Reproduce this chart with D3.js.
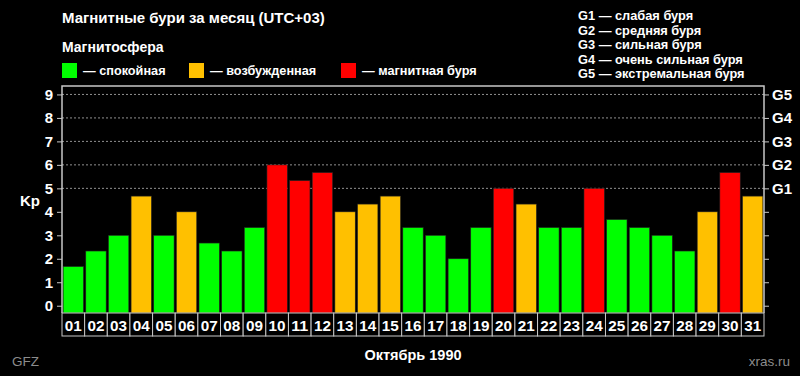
<!DOCTYPE html>
<html lang="ru">
<head>
<meta charset="utf-8">
<title>Магнитные бури за месяц</title>
<script src="https://d3js.org/d3.v7.min.js"></script>
<style>
  html, body { margin: 0; padding: 0; background: #000; }
  svg { display: block; font-family: "Liberation Sans", Arial, sans-serif; font-weight: bold; }
</style>
</head>
<body>
<script>
// data
const days = ["01","02","03","04","05","06","07","08","09","10","11","12","13","14","15","16",
              "17","18","19","20","21","22","23","24","25","26","27","28","29","30","31"];
const kp = [1.67, 2.33, 3, 4.67, 3, 4, 2.67, 2.33, 3.33, 6, 5.33, 5.67, 4, 4.33, 4.67, 3.33,
            3, 2, 3.33, 5, 4.33, 3.33, 3.33, 5, 3.67, 3.33, 3, 2.33, 4, 5.67, 4.67];
const kpTicks = [0, 1, 2, 3, 4, 5, 6, 7, 8, 9];
const gLevels = ["G1", "G2", "G3", "G4", "G5"];
const gValues = [5, 6, 7, 8, 9];
const gNotes = ["G1 — слабая буря", "G2 — средняя буря", "G3 — сильная буря",
                "G4 — очень сильная буря", "G5 — экстремальная буря"];
const legendLabels = ["— спокойная", "— возбужденная", "— магнитная буря"];
const legendColors = ["#00ff00", "#ffc000", "#ff0000"];

const width = 800, height = 376;
const plotL = 62, plotR = 764, plotT = 86, plotB = 313;

const svg = d3.select("body").append("svg")
    .attr("width", width)
    .attr("height", height);

const x = d3.scaleBand().domain(days).range([plotL, plotR]).paddingInner(0.1).paddingOuter(0.05);
const y = d3.scaleLinear().domain([-0.31, 9.36]).range([plotB, plotT]);
const color = d3.scaleThreshold().domain([4, 5]).range(legendColors);

// titles
svg.append("text").attr("x", 62).attr("y", 23).attr("fill", "#fff").attr("font-size", 15)
    .text("Магнитные бури за месяц (UTC+03)");
svg.append("text").attr("x", 62).attr("y", 52).attr("fill", "#fff").attr("font-size", 14)
    .text("Магнитосфера");

// legend
const legX = [62, 189, 341];
legendLabels.forEach((t, i) => {
  svg.append("rect").attr("x", legX[i]).attr("y", 63).attr("width", 15).attr("height", 15)
      .attr("fill", legendColors[i]);
  svg.append("text").attr("x", legX[i] + 21).attr("y", 75).attr("fill", "#fff").attr("font-size", 12.7)
      .text(t);
});

svg.append("g").selectAll("text").data(gNotes).join("text")
    .attr("x", 578).attr("y", (d, i) => 20 + i * 14.6)
    .attr("fill", "#fff").attr("font-size", 12.8)
    .text(d => d);

// grid lines for G levels
svg.append("g").selectAll("line").data(gValues).join("line")
    .attr("x1", plotL).attr("x2", plotR)
    .attr("y1", d => y(d)).attr("y2", d => y(d))
    .attr("stroke", "#909090").attr("stroke-width", 1).attr("stroke-dasharray", "2,2");

// bars
svg.append("g").selectAll("rect").data(kp).join("rect")
    .attr("x", (d, i) => x(days[i]))
    .attr("y", d => y(d))
    .attr("width", x.bandwidth())
    .attr("height", d => plotB - y(d))
    .attr("fill", d => color(d))
    .attr("stroke", "#222").attr("stroke-width", 0.6);

// frame
svg.append("path")
    .attr("d", `M${plotL},${plotB}V${plotT}H${plotR}V${plotB}`)
    .attr("fill", "none").attr("stroke", "#c8c8c8").attr("stroke-width", 1.5);

// left axis
const leftAxis = svg.append("g")
    .attr("transform", `translate(${plotL},0)`)
    .call(d3.axisLeft(y).tickValues(kpTicks).tickSize(5).tickPadding(4).tickFormat(d3.format("d")));
leftAxis.select(".domain").remove();
leftAxis.selectAll("line").attr("stroke", "#c8c8c8");
leftAxis.selectAll("text").attr("fill", "#fff").attr("font-size", 15);
leftAxis.attr("font-family", null);

// right axis
const rightAxis = svg.append("g")
    .attr("transform", `translate(${plotR},0)`)
    .call(d3.axisRight(y).tickValues(kpTicks).tickSize(5).tickPadding(3)
      .tickFormat(d => d >= 5 ? gLevels[gValues.indexOf(d)] : ""));
rightAxis.select(".domain").remove();
rightAxis.selectAll("line").attr("stroke", "#c8c8c8");
rightAxis.selectAll("text").attr("fill", "#fff").attr("font-size", 15);
rightAxis.attr("font-family", null);

svg.append("text").attr("x", 30).attr("y", 206).attr("text-anchor", "middle")
    .attr("fill", "#fff").attr("font-size", 15).text("Kp");

// date boxes
const boxes = svg.append("g");
const bandStep = (plotR - plotL) / days.length;
days.forEach((d, i) => {
  boxes.append("rect").attr("x", plotL + i * bandStep).attr("y", plotB)
      .attr("width", bandStep).attr("height", 23)
      .attr("fill", "#000").attr("stroke", "#c8c8c8").attr("stroke-width", 1);
});
svg.append("g").selectAll("text").data(days).join("text")
    .attr("x", d => x(d) + x.bandwidth() / 2)
    .attr("y", plotB + 17.5)
    .attr("text-anchor", "middle")
    .attr("fill", "#fff").attr("font-size", 15)
    .attr("textLength", 17).attr("lengthAdjust", "spacingAndGlyphs")
    .text(d => d);

svg.append("text").attr("x", 413).attr("y", 360).attr("text-anchor", "middle")
    .attr("fill", "#fff").attr("font-size", 14.5).text("Октябрь 1990");

svg.append("text").attr("x", 12).attr("y", 366).attr("fill", "#8c8c8c").attr("font-size", 13.5).attr("font-weight", "normal")
    .text("GFZ");
svg.append("text").attr("x", 790).attr("y", 366).attr("text-anchor", "end")
    .attr("fill", "#8c8c8c").attr("font-size", 13.5).attr("font-weight", "normal").text("xras.ru");
</script>
</body>
</html>
